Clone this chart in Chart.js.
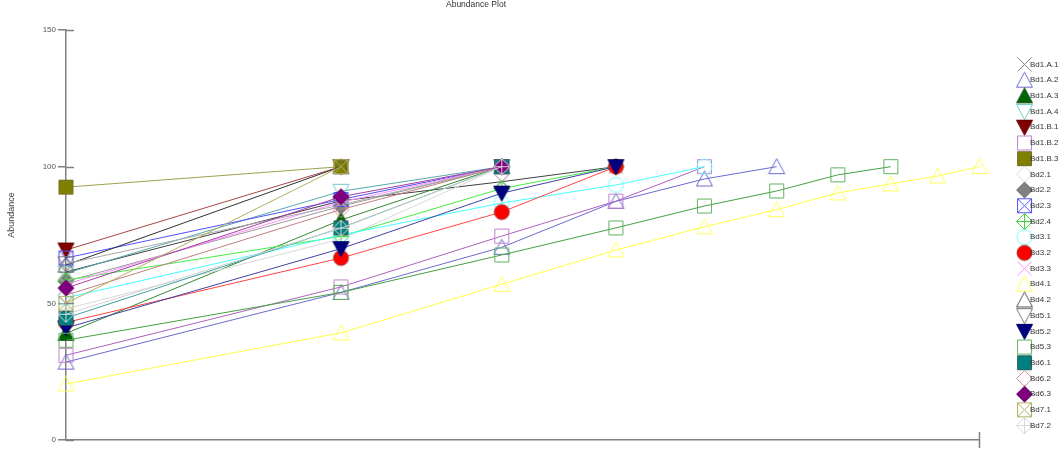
<!DOCTYPE html>
<html>
<head>
<meta charset="utf-8">
<script src="https://cdn.jsdelivr.net/npm/chart.js@4.4.0/dist/chart.umd.min.js"></script>
<style>
  html, body { margin: 0; padding: 0; background: #fff; }
  #wrap { width: 1063px; height: 454px; position: relative; }
</style>
</head>
<body>
<div id="wrap"><canvas id="chart"></canvas></div>
<script>
'use strict';

// samples, in legend order
const sampleNames = [
	'Bd1.A.1', 'Bd1.A.2', 'Bd1.A.3', 'Bd1.A.4', 'Bd1.B.1', 'Bd1.B.2', 'Bd1.B.3',
	'Bd2.1', 'Bd2.2', 'Bd2.3', 'Bd2.4', 'Bd3.1', 'Bd3.2', 'Bd3.3', 'Bd4.1', 'Bd4.2',
	'Bd5.1', 'Bd5.2', 'Bd5.3', 'Bd6.1', 'Bd6.2', 'Bd6.3', 'Bd7.1', 'Bd7.2'
];

// cumulative abundance by species rank (rank 1, 2, 3, ...)
const bd1A1 = [61.5, 87.5, 94.5, 100];
const bd1A2 = [28.5, 54, 70.5, 87.3, 95.5, 100];
const bd1A3 = [39, 80.5, 100];
const bd1A4 = [61, 91, 100];
const bd1B1 = [69.5, 100];
const bd1B2 = [31, 56, 74.6, 87.4, 100];
const bd1B3 = [92.5, 100];
const bd21 = [48, 73.5, 100];
const bd22 = [58, 85.5, 100];
const bd23 = [66.6, 88, 100];
const bd24 = [58.5, 74.5, 92, 100];
const bd31 = [52, 75, 86.7, 93.3, 100];
const bd32 = [43, 66.6, 83.4, 100];
const bd33 = [57, 87, 100];
const bd41 = [20.5, 39.2, 57, 69.5, 78, 84.3, 90.4, 93.7, 96.6, 100];
const bd42 = [64, 100];
const bd51 = [64.5, 86, 100];
const bd52 = [41, 70, 90.3, 100];
const bd53 = [36.5, 54, 67.7, 77.6, 85.6, 91.1, 97, 100];
const bd61 = [44.6, 77.6, 100];
const bd62 = [53, 84.3, 100];
const bd63 = [55.6, 89, 100];
const bd71 = [50, 100];
const bd72 = [46, 77.5, 100];

const sampleValues = [
	bd1A1, bd1A2, bd1A3, bd1A4, bd1B1, bd1B2, bd1B3, bd21, bd22, bd23, bd24, bd31,
	bd32, bd33, bd41, bd42, bd51, bd52, bd53, bd61, bd62, bd63, bd71, bd72
];

const yTicks = [0, 50, 100, 150];

// marker look per sample
const shapes = ['x', 'tri', 'tri', 'itri', 'itri', 'sq', 'sq', 'dia', 'dia', 'sqx', 'dplus', 'circ',
	'circ', 'x', 'tri', 'tri', 'itri', 'itri', 'sq', 'sq', 'dia', 'dia', 'sqx', 'dplus'];
const fills = [null, null, '#006400', null, '#800000', null, '#808000', null, '#808080', null, null, null,
	'#ff0000', null, null, null, null, '#000080', null, '#008080', null, '#800080', null, null];
const strokes = ['#808080', '#6a6ad0', '#2a5a2a', '#70c8c8', '#600000', '#c080d0', '#707030', '#dcdcdc',
	'#707070', '#5050ff', '#40d040', '#70ffff', '#a03030', '#ff90ff', '#ffff60', '#555555', '#777777',
	'#000060', '#60b060', '#306060', '#d09090', '#600060', '#b0b060', '#d8d8d8'];
const lineColors = ['#404040', '#6a6ad0', '#338833', '#55aaaa', '#aa4444', '#b060c0', '#a0a050', '#d8d8d8',
	'#999999', '#5050ff', '#44ee44', '#44ffff', '#ff4444', '#ff90ff', '#ffff44', '#303030', '#aaaaaa',
	'#4040a0', '#44a044', '#40a0a0', '#c08080', '#a040a0', '#b0b060', '#d0d0d0'];

const FONT = 'Arial, "Liberation Sans", sans-serif';

function makeMarker( shape, stroke, fill ) {
	const c = document.createElement( 'canvas' );
	c.width = 19;
	c.height = 19;
	const g = c.getContext( '2d' );
	g.translate( 9.5, 9.5 );
	g.lineWidth = 1;
	g.strokeStyle = stroke;
	g.beginPath();
	if ( shape === 'sq' || shape === 'sqx' ) {
		g.rect( -7, -7, 14, 14 );
	} else if ( shape === 'tri' ) {
		g.moveTo( 0, -8 ); g.lineTo( 8, 7 ); g.lineTo( -8, 7 ); g.closePath();
	} else if ( shape === 'itri' ) {
		g.moveTo( 0, 8 ); g.lineTo( 8, -7 ); g.lineTo( -8, -7 ); g.closePath();
	} else if ( shape === 'dia' || shape === 'dplus' ) {
		g.moveTo( 0, -8 ); g.lineTo( 8, 0 ); g.lineTo( 0, 8 ); g.lineTo( -8, 0 ); g.closePath();
	} else if ( shape === 'circ' ) {
		g.arc( 0, 0, 7.5, 0, Math.PI * 2 );
	}
	if ( fill ) {
		g.fillStyle = fill;
		g.fill();
	}
	if ( shape !== 'x' ) {
		g.stroke();
	}
	g.beginPath();
	if ( shape === 'x' || shape === 'sqx' ) {
		g.moveTo( -7, -7 ); g.lineTo( 7, 7 );
		g.moveTo( 7, -7 ); g.lineTo( -7, 7 );
	}
	if ( shape === 'dplus' ) {
		g.moveTo( -8, 0 ); g.lineTo( 8, 0 );
		g.moveTo( 0, -8 ); g.lineTo( 0, 8 );
	}
	g.stroke();
	return c;
}

const datasets = sampleNames.map( ( name, i ) => ( {
	label: name,
	data: sampleValues[ i ].map( ( v, k ) => ( { x: k + 1, y: v } ) ),
	borderColor: lineColors[ i ],
	backgroundColor: fills[ i ] || '#ffffff',
	borderWidth: 1,
	pointStyle: makeMarker( shapes[ i ], strokes[ i ], fills[ i ] ),
	pointRadius: 7,
	tension: 0,
	fill: false,
	clip: false,
	order: sampleNames.length - i,
} ) );

// cross ticks on the axes, the plot title and the axis name
const plotFrame = {
	id: 'plotFrame',
	afterDraw( chart ) {
		const ctx = chart.ctx;
		const x = chart.scales.x;
		const y = chart.scales.y;
		ctx.save();
		ctx.strokeStyle = '#808080';
		ctx.lineWidth = 1.5;
		ctx.beginPath();
		yTicks.forEach( ( t ) => {
			const py = Math.round( y.getPixelForValue( t ) ) + 0.5;
			ctx.moveTo( x.left, py );
			ctx.lineTo( x.left + 8, py );
		} );
		const px = Math.round( x.getPixelForValue( 10 ) ) + 0.5;
		ctx.moveTo( px, y.bottom - 8 );
		ctx.lineTo( px, y.bottom + 8 );
		ctx.stroke();

		ctx.fillStyle = '#333';
		ctx.font = '8.5px ' + FONT;
		ctx.textAlign = 'center';
		ctx.textBaseline = 'middle';
		ctx.fillText( 'Abundance Plot', 476, 5 );

		ctx.fillStyle = '#444';
		ctx.font = '9px ' + FONT;
		ctx.translate( 12, 215 );
		ctx.rotate( -Math.PI / 2 );
		ctx.fillText( 'Abundance', 0, 0 );
		ctx.restore();
	},
};

new Chart( document.getElementById( 'chart' ), {
	type: 'line',
	data: { datasets: datasets },
	options: {
		responsive: true,
		maintainAspectRatio: false,
		animation: false,
		layout: { padding: { top: 30, right: -5.5, left: 0, bottom: 0 } },
		scales: {
			x: {
				type: 'logarithmic',
				min: 1,
				max: 10,
				ticks: { display: false },
				grid: { display: false },
				border: { display: true, color: '#808080', width: 1.5 },
				afterFit: ( scale ) => { scale.height = 14; },
			},
			y: {
				min: 0,
				max: 150,
				afterBuildTicks: ( scale ) => { scale.ticks = yTicks.map( ( v ) => ( { value: v } ) ); },
				ticks: { font: { family: FONT, size: 8 }, color: '#555', padding: 2 },
				grid: { drawOnChartArea: false, tickLength: 8, color: '#808080', lineWidth: 1.5 },
				border: { display: true, color: '#808080', width: 1.5 },
				afterFit: ( scale ) => { scale.width = 66; },
			},
			gap: {
				position: 'right',
				display: true,
				ticks: { display: false },
				grid: { display: false },
				border: { display: false },
				afterFit: ( scale ) => { scale.width = 36; },
			},
		},
		plugins: {
			legend: {
				position: 'right',
				title: { display: true, text: '', font: { size: 5 }, padding: 0 },
				labels: {
					usePointStyle: true,
					boxWidth: 3,
					font: { family: FONT, size: 8 },
					color: '#333',
					padding: 7.7,
					sort: ( a, b ) => a.datasetIndex - b.datasetIndex,
				},
			},
			tooltip: { enabled: false },
		},
	},
	plugins: [ plotFrame ],
} );
</script>
</body>
</html>
